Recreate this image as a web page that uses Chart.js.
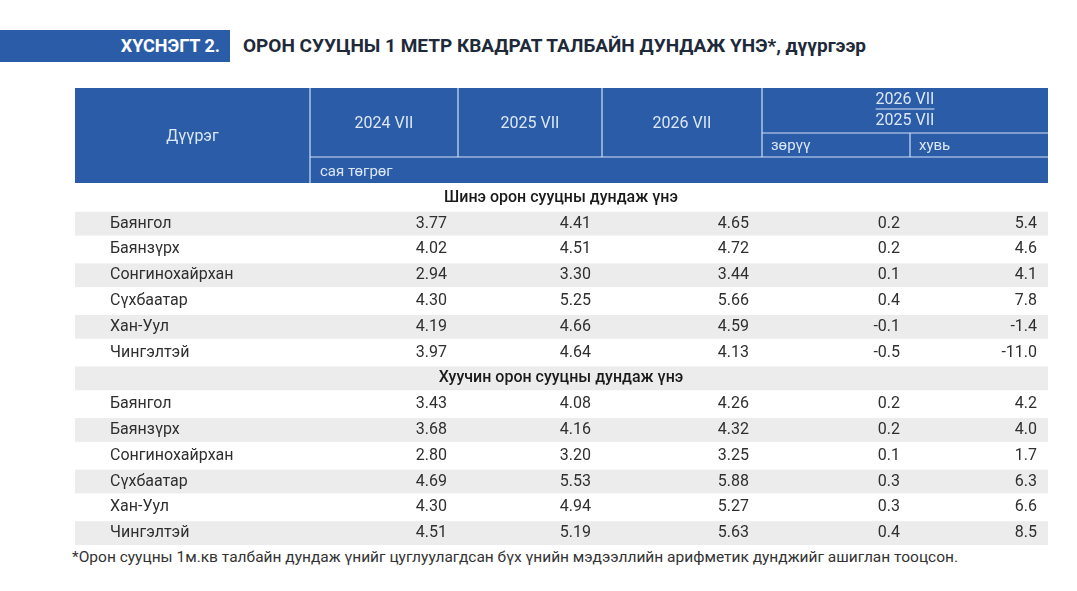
<!DOCTYPE html>
<html>
<head>
<meta charset="utf-8">
<script src="https://cdn.jsdelivr.net/npm/chart.js@4"></script>
<style>
  body { margin: 0; width: 1077px; height: 591px; background: #fff; position: relative; font-family: Roboto, "Noto Sans", sans-serif; overflow: hidden; }
  #band { position: absolute; left: 0; top: 30px; width: 230px; height: 32px; background: #2b5ca8; color: #fff; font-weight: bold; font-size: 18px; line-height: 32px; text-align: right; box-sizing: border-box; padding-right: 10px; }
  #title { position: absolute; left: 243px; top: 30px; line-height: 32px; font-size: 19px; font-weight: bold; color: #1e2a3a; white-space: nowrap; }
  #wrap { position: absolute; left: 75px; top: 88px; width: 973px; height: 458px; }
  #note { position: absolute; left: 72px; top: 548px; font-size: 15.5px; color: #333; white-space: nowrap; }
</style>
</head>
<body>
<div id="band">ХҮСНЭГТ 2.</div>
<div id="title">ОРОН СУУЦНЫ 1 МЕТР КВАДРАТ ТАЛБАЙН ДУНДАЖ ҮНЭ*, дүүргээр</div>
<div id="wrap"><canvas id="tbl"></canvas></div>
<div id="note">*Орон сууцны 1м.кв талбайн дундаж үнийг цуглуулагдсан бүх үнийн мэдээллийн арифметик дунджийг ашиглан тооцсон.</div>
<script>
const districts = ["Баянгол", "Баянзүрх", "Сонгинохайрхан", "Сүхбаатар", "Хан-Уул", "Чингэлтэй"];
const sections = ["Шинэ орон сууцны дундаж үнэ", "Хуучин орон сууцны дундаж үнэ"];
const headers = ["Дүүрэг", "2024 VII", "2025 VII", "2026 VII"];
const ratioTop = "2026 VII";
const ratioBottom = "2025 VII";
const subHeaders = ["зөрүү", "хувь"];
const unitLabel = "сая төгрөг";

const new2024 = ["3.77", "4.02", "2.94", "4.30", "4.19", "3.97"];
const new2025 = ["4.41", "4.51", "3.30", "5.25", "4.66", "4.64"];
const new2026 = ["4.65", "4.72", "3.44", "5.66", "4.59", "4.13"];
const newDiff = ["0.2", "0.2", "0.1", "0.4", "-0.1", "-0.5"];
const newPct = ["5.4", "4.6", "4.1", "7.8", "-1.4", "-11.0"];

const old2024 = ["3.43", "3.68", "2.80", "4.69", "4.30", "4.51"];
const old2025 = ["4.08", "4.16", "3.20", "5.53", "4.94", "5.19"];
const old2026 = ["4.26", "4.32", "3.25", "5.88", "5.27", "5.63"];
const oldDiff = ["0.2", "0.2", "0.1", "0.3", "0.3", "0.4"];
const oldPct = ["4.2", "4.0", "1.7", "6.3", "6.6", "8.5"];

// rows: section header + 6 districts, twice
const rows = [];
[[new2024, new2025, new2026, newDiff, newPct], [old2024, old2025, old2026, oldDiff, oldPct]].forEach((s, si) => {
  rows.push({ section: sections[si] });
  districts.forEach((d, i) => rows.push({ name: d, vals: s.map((a) => a[i]) }));
});

const colEdges = [0, 235, 383, 527, 687, 835, 973];
const HEAD = 97;

const tablePlugin = {
  id: "tablePlugin",
  beforeDatasetsDraw(chart) {
    const ctx = chart.ctx;
    const x = chart.scales.x, y = chart.scales.y;
    const X = (v) => x.getPixelForValue(v);
    const rowH = y.getPixelForValue(1) - y.getPixelForValue(0);
    ctx.save();
    // header
    ctx.fillStyle = "#2b5ca8";
    ctx.fillRect(X(0), 0, X(973) - X(0), 95);
    ctx.strokeStyle = "#cfe0f5";
    ctx.lineWidth = 1.2;
    const line = (x1, y1, x2, y2) => { ctx.beginPath(); ctx.moveTo(x1, y1); ctx.lineTo(x2, y2); ctx.stroke(); };
    line(X(235), 0, X(235), 95);
    [383, 527, 687].forEach((c) => line(X(c), 0, X(c), 69));
    line(X(235), 69, X(973), 69);
    line(X(687), 45, X(973), 45);
    line(X(835), 45, X(835), 69);
    ctx.fillStyle = "#dce7f5";
    ctx.font = "16px Roboto";
    ctx.textAlign = "center";
    ctx.textBaseline = "middle";
    ctx.fillText(headers[0], (X(0) + X(235)) / 2, 49);
    for (let i = 1; i < 4; i++) ctx.fillText(headers[i], (X(colEdges[i]) + X(colEdges[i + 1])) / 2, 36);
    const cx = (X(687) + X(973)) / 2;
    ctx.fillText(ratioTop, cx, 12);
    const tw = ctx.measureText(ratioTop).width;
    ctx.strokeStyle = "#dce7f5";
    line(cx - tw / 2, 21, cx + tw / 2, 21);
    ctx.fillText(ratioBottom, cx, 33);
    ctx.textAlign = "left";
    ctx.font = "15px Roboto";
    ctx.fillText(subHeaders[0], X(687) + 9, 58);
    ctx.fillText(subHeaders[1], X(835) + 9, 58);
    ctx.fillText(unitLabel, X(235) + 10, 84);
    // body
    rows.forEach((r, i) => {
      const cy = y.getPixelForValue(i);
      if (i % 2 === 1) {
        ctx.fillStyle = "#ececec";
        ctx.fillRect(X(0), cy - rowH / 2 + 1, X(973) - X(0), rowH - 2);
      }
      ctx.fillStyle = "#2f2f2f";
      if (r.section) {
        ctx.font = "500 16px Roboto";
        ctx.textAlign = "center";
        ctx.fillStyle = "#1a1a1a";
        ctx.fillText(r.section, X(486), cy);
      } else {
        ctx.font = "16px Roboto";
        ctx.textAlign = "left";
        ctx.fillText(r.name, X(35), cy);
        ctx.textAlign = "right";
        const ends = [372, 516, 674, 825, 962];
        r.vals.forEach((v, k) => ctx.fillText(v, X(ends[k]), cy));
      }
    });
    ctx.restore();
  },
};

new Chart(document.getElementById("tbl"), {
  type: "bar",
  data: { labels: rows.map((r, i) => String(i)), datasets: [{ data: [] }] },
  options: {
    responsive: true,
    maintainAspectRatio: false,
    animation: false,
    layout: { padding: { top: HEAD, left: 0, right: 0, bottom: 0 } },
    plugins: { legend: { display: false }, tooltip: { enabled: false } },
    scales: {
      x: { type: "linear", min: 0, max: 973, offset: false, display: false },
      y: { type: "category", offset: true, display: false },
    },
  },
  plugins: [tablePlugin],
});
</script>
</body>
</html>
